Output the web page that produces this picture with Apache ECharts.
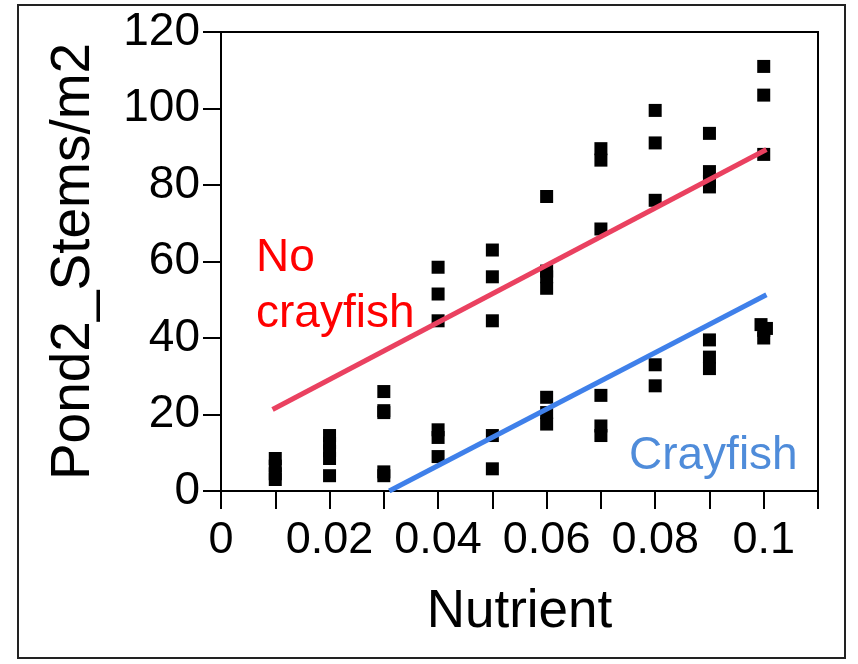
<!DOCTYPE html>
<html>
<head>
<meta charset="utf-8">
<script src="https://cdn.jsdelivr.net/npm/echarts@6/dist/echarts.min.js"></script>
<style>html,body{margin:0;padding:0;background:#fff}#c{width:858px;height:664px}</style>
</head>
<body>
<div id="c"></div>
<script>
// Observations (Nutrient, Stems/m2)
var noCrayfishX = [0.01,0.01,0.02,0.02,0.02,0.03,0.03,0.04,0.04,0.04,0.05,0.05,0.05,0.06,0.06,0.06,0.06,0.07,0.07,0.07,0.08,0.08,0.08,0.09,0.09,0.09,0.09,0.1,0.1,0.1];
var noCrayfishY = [8.5,6.5,14.5,12.5,10.5,26,21,58.5,51.5,44.5,63,56,44.5,77,57.5,56,53,89.5,86.5,68.5,99.5,91,76,93.5,83.5,81,79.5,111,103.5,88];
var crayfishX = [0.01,0.01,0.02,0.02,0.03,0.03,0.03,0.04,0.04,0.04,0.05,0.05,0.06,0.06,0.06,0.07,0.07,0.07,0.08,0.08,0.09,0.09,0.09,0.0995,0.1005,0.1,0.1];
var crayfishY = [4.5,3,8.5,4,20.5,5,4,16,14,9,14.5,5.8,24.5,20.5,17.5,25,17,14.5,33,27.5,39.5,35,32,43.5,42.5,42,40];
// Fitted lines (endpoints)
var fitNoCrayfishX = [0.0095, 0.1005];
var fitNoCrayfishY = [21.3, 89.3];
var fitCrayfishX = [0.031, 0.1005];
var fitCrayfishY = [0, 51.3];
// Axis tick labels (indexed by hundredths)
var xTickLabels = ['0','','0.02','','0.04','','0.06','','0.08','','0.1',''];
var yTicks = [0,20,40,60,80,100,120];

function zip(a,b){return a.map(function(v,i){return [v,b[i]];});}
var FONT = '"Liberation Sans", Arial, Helvetica, sans-serif';

var chart = echarts.init(document.getElementById('c'));
chart.setOption({
  animation:false,
  backgroundColor:'#fff',
  grid:{left:221,right:40,top:32,bottom:173,show:true,borderColor:'#000',borderWidth:2,containLabel:false},
  xAxis:{
    type:'value',min:0,max:0.11,interval:0.01,
    name:'Nutrient',nameLocation:'middle',nameGap:95,
    nameTextStyle:{fontFamily:FONT,fontSize:53,color:'#000'},
    axisLine:{show:true,lineStyle:{color:'#000',width:2}},
    axisTick:{show:true,length:18,lineStyle:{color:'#000',width:2}},
    axisLabel:{margin:27,fontFamily:FONT,fontSize:45,color:'#000',showMaxLabel:true,
      formatter:function(v){var k=Math.round(v*100);return xTickLabels[k]||'';}},
    splitLine:{show:false}
  },
  yAxis:{
    type:'value',min:yTicks[0],max:yTicks[yTicks.length-1],interval:20,
    name:'Pond2_Stems/m2',nameLocation:'middle',nameGap:120,nameRotate:90,
    nameTextStyle:{fontFamily:FONT,fontSize:55,color:'#000'},
    axisLine:{show:true,lineStyle:{color:'#000',width:2}},
    axisTick:{show:true,length:18,lineStyle:{color:'#000',width:2}},
    axisLabel:{margin:21,fontFamily:FONT,fontSize:46,color:'#000'},
    splitLine:{show:false}
  },
  series:[
    {type:'scatter',name:'No crayfish',data:zip(noCrayfishX,noCrayfishY),symbol:'rect',symbolSize:13,itemStyle:{color:'#000',opacity:1},z:2},
    {type:'scatter',name:'Crayfish',data:zip(crayfishX,crayfishY),symbol:'rect',symbolSize:13,itemStyle:{color:'#000',opacity:1},z:2},
    {type:'line',data:zip(fitNoCrayfishX,fitNoCrayfishY),showSymbol:false,lineStyle:{color:'#EA4160',width:5},z:3},
    {type:'line',data:zip(fitCrayfishX,fitCrayfishY),showSymbol:false,lineStyle:{color:'#3F80EA',width:5},z:3}
  ],
  graphic:[
    {type:'rect',shape:{x:18,y:5,width:827,height:653},style:{fill:'none',stroke:'#222',lineWidth:2},z:0},
    {type:'text',x:256,y:258.5,style:{text:'No',fontFamily:FONT,fontSize:46,fill:'#FF0000',verticalAlign:'middle',align:'left'},z:5},
    {type:'text',x:256,y:314.5,style:{text:'crayfish',fontFamily:FONT,fontSize:46,fill:'#FF0000',verticalAlign:'middle',align:'left'},z:5},
    {type:'text',x:629,y:456.5,style:{text:'Crayfish',fontFamily:FONT,fontSize:46,fill:'#4F8CDA',verticalAlign:'middle',align:'left'},z:5}
  ]
});
</script>
</body>
</html>
